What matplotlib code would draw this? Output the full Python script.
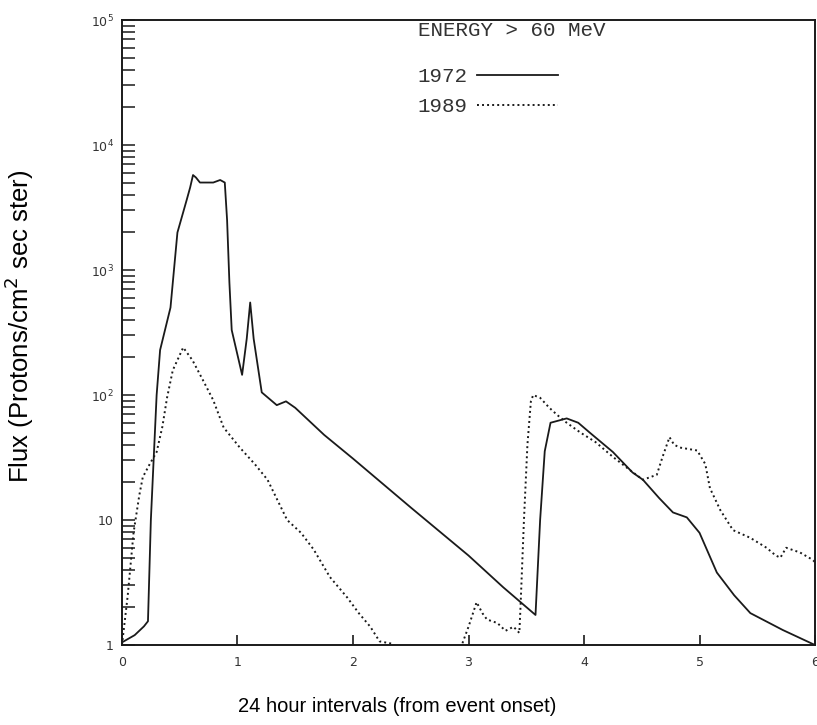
import numpy as np
import matplotlib
matplotlib.use('Agg')
import matplotlib.pyplot as plt

# --- 1972 event, energy > 60 MeV (days from onset, flux)
day_1972 = [0.0, 0.11, 0.19, 0.225, 0.25, 0.30, 0.33, 0.42, 0.48, 0.56, 0.59,
            0.615, 0.64, 0.675, 0.79, 0.85, 0.89, 0.91, 0.93, 0.95, 1.04, 1.08,
            1.11, 1.14, 1.21, 1.34, 1.42, 1.50, 1.75, 2.0, 2.5, 3.0, 3.3, 3.58,
            3.62, 3.66, 3.71, 3.85, 3.95, 4.05, 4.25, 4.42, 4.51, 4.65, 4.77,
            4.89, 5.0, 5.15, 5.30, 5.44, 5.72, 6.0]
flux_1972 = [1.05, 1.2, 1.41, 1.55, 10, 100, 229, 501, 1995, 3630, 4570,
             5750, 5500, 5010, 5010, 5250, 5010, 2510, 794, 331, 145, 282,
             550, 282, 105, 83, 89, 79, 48, 31, 12.6, 5.2, 2.9, 1.74,
             10, 35.5, 60, 65, 60, 50, 35, 24, 21, 15, 11.5,
             10.5, 7.9, 3.8, 2.5, 1.8, 1.32, 1.0]

# --- 1989 event
day_1989 = [0.0, 0.05, 0.10, 0.15, 0.18, 0.24, 0.30, 0.35, 0.39, 0.44, 0.53,
            0.61, 0.70, 0.79, 0.88, 1.02, 1.15, 1.26, 1.43, 1.55, 1.66, 1.80,
            1.95, 2.05, 2.15, 2.23, 2.35, 2.45, 2.90, 2.95, 3.00, 3.07, 3.12,
            3.16, 3.25, 3.32, 3.39, 3.44, 3.45, 3.48, 3.51, 3.54, 3.56, 3.62,
            3.70, 3.77, 3.85, 3.97, 4.10, 4.25, 4.40, 4.51, 4.63, 4.68, 4.74,
            4.78, 4.83, 4.98, 5.05, 5.09, 5.18, 5.29, 5.44, 5.58, 5.66, 5.70,
            5.75, 5.87, 5.98, 6.0]
flux_1989 = [1.0, 2.5, 7.9, 15.8, 22, 28, 35, 56, 95, 158, 240,
             190, 132, 91, 55, 38, 28, 21, 10, 7.9, 5.8, 3.5,
             2.4, 1.8, 1.4, 1.07, 1.02, 0.5, 0.5, 1.05, 1.4, 2.2, 1.8,
             1.6, 1.5, 1.3, 1.4, 1.25, 2.0, 10, 40, 89, 100, 95,
             79, 69, 60, 50, 42, 32, 25, 21, 23, 32, 46,
             40, 38, 36, 28, 18, 12, 8.3, 7.2, 6.0, 5.2, 5.0,
             6.0, 5.5, 4.8, 4.6]

y_ticks = [1, 10, 100, 1000, 10000, 100000]
y_tick_labels = ['1', '10', r'$10^{2}$', r'$10^{3}$', r'$10^{4}$', r'$10^{5}$']
x_ticks = [0, 1, 2, 3, 4, 5, 6]

ink = '#1a1a1a'
grey_text = '#333333'
mono = 'Liberation Mono'

fig = plt.figure(figsize=(8.17, 7.25), dpi=100)
ax = fig.add_axes([0.1493, 0.1103, 0.8483, 0.8621])

ax.plot(day_1972, flux_1972, color=ink, lw=1.3, label='1972')
ax.plot(day_1989, flux_1989, color=ink, lw=1.4, linestyle=(0, (1, 1.6)),
        label='1989')

ax.set_yscale('log')
ax.set_xlim(0, 6)
ax.set_ylim(1, 1e5)

ax.set_yticks(y_ticks)
ax.set_yticklabels(y_tick_labels, fontsize=9, color=grey_text)
ax.set_xticks(x_ticks)
ax.set_xticklabels([str(t) for t in x_ticks], fontsize=9, color=grey_text)

ax.tick_params(axis='y', which='both', direction='in', length=9, width=1.1,
               right=False, color=ink, pad=6)
ax.tick_params(axis='x', which='both', direction='in', length=7, width=1.2,
               top=False, color=ink, pad=8)

for side in ['left', 'bottom', 'top', 'right']:
    ax.spines[side].set_linewidth(1.4)
    ax.spines[side].set_color(ink)

ax.set_ylabel(r'Flux (Protons/cm$^2$ sec ster)', fontsize=18.5,
              family='Liberation Sans')
ax.yaxis.set_label_coords(-0.124, 0.51)
ax.set_xlabel('24 hour intervals (from event onset)', fontsize=14.5,
              family='Liberation Sans')
ax.xaxis.set_label_coords(0.397, -0.083)

# energy heading and series key
ax.text(0.427, 0.984, 'ENERGY > 60 MeV', transform=ax.transAxes,
        family=mono, fontsize=15, color=grey_text, va='center', ha='left')
leg = ax.legend(loc='upper left', bbox_to_anchor=(0.40, 0.955), frameon=False,
                markerfirst=False, handlelength=3.85, handletextpad=0.45,
                labelspacing=0.55, borderaxespad=0.5,
                prop={'family': mono, 'size': 15})
for t in leg.get_texts():
    t.set_color(grey_text)

plt.savefig('out.png', dpi=100)
